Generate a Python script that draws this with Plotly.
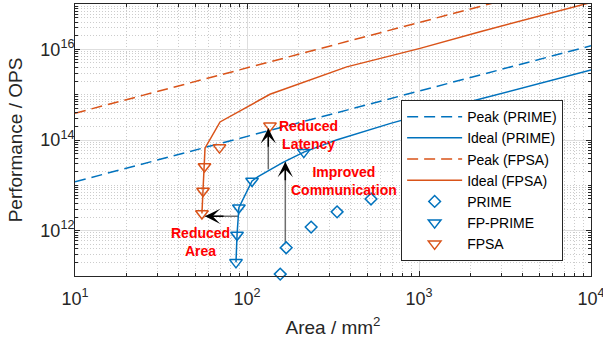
import plotly.graph_objects as go
import math

# ---------------- data ----------------
peak_area = [10, 10000]
peak_prime = [1.2e13, 1.2e16]
peak_fpsa = [3.9e14, 3.9e17]

ideal_prime_area = [86.3, 87.5, 89.7, 107, 116, 162, 214, 331, 676, 1578, 10000]
ideal_prime_perf = [2.0e11, 8.0e11, 3.2e12, 1.25e13, 1.55e13, 3.2e13, 5.4e13, 1.0e14, 2.3e14, 5.6e14, 3.5e15]

ideal_fpsa_area = [54.7, 55.5, 56.6, 57.0, 69.7, 136, 380, 1014, 2265, 10000]
ideal_fpsa_perf = [2.4e12, 7.5e12, 2.6e13, 6.6e13, 2.5e14, 1.02e15, 4.1e15, 1.05e16, 2.45e16, 1.08e17]

prime_area = [156, 169, 236, 334, 526]
prime_perf = [1.1e11, 4.2e11, 1.2e12, 2.6e12, 5.0e12]

fp_prime_area = [86.3, 87.5, 89.7, 107, 214]
fp_prime_perf = [2.0e11, 8.0e11, 3.2e12, 1.25e13, 5.4e13]

fpsa_area = [54.7, 55.5, 56.6, 69.2, 136]
fpsa_perf = [2.4e12, 7.5e12, 2.6e13, 6.8e13, 2.05e14]

x_tick_vals = [10, 100, 1000, 10000]
x_tick_text = ["10<sup>1</sup>", "10<sup>2</sup>", "10<sup>3</sup>", "10<sup>4</sup>"]
y_tick_vals = [1e12, 1e14, 1e16]
y_tick_text = ["10<sup>12</sup>", "10<sup>14</sup>", "10<sup>16</sup>"]

# arrows: (tail area, tail perf, tip area, tip perf, head offset px)
arrows = [
    (88.7, 2.07e12, 57.0, 2.07e12, (20, 0)),      # Reduced Area
    (133, 2.25e13, 133, 1.81e14, (0, 20)),        # Reduced Latency
    (167, 5.5e11, 167, 3.3e13, (0, 20)),          # Improved Communication
]
labels = [
    ("Reduced<br>Latency", 227, 1.29e14),
    ("Improved<br>Communication", 364, 1.23e13),
    ("Reduced<br>Area", 53.3, 5.55e11),
]

BLUE = "#0072BD"
ORANGE = "#D95319"
AX = "#262626"
FONT = "Liberation Sans, Arial, sans-serif"

fig = go.Figure()

# arrow shafts (drawn first, underneath)
for (xa, ya, xb, yb, off) in arrows:
    fig.add_trace(go.Scatter(x=[xa, xb], y=[ya, yb], mode="lines",
                             line=dict(color="#6e6e6e", width=1.5),
                             showlegend=False, hoverinfo="skip"))

fig.add_trace(go.Scatter(x=peak_area, y=peak_prime, mode="lines", name="Peak (PRIME)",
                         line=dict(color=BLUE, width=1.5, dash="11px,6px")))
fig.add_trace(go.Scatter(x=ideal_prime_area, y=ideal_prime_perf, mode="lines", name="Ideal (PRIME)",
                         line=dict(color=BLUE, width=1.5)))
fig.add_trace(go.Scatter(x=peak_area, y=peak_fpsa, mode="lines", name="Peak (FPSA)",
                         line=dict(color=ORANGE, width=1.5, dash="11px,6px")))
fig.add_trace(go.Scatter(x=ideal_fpsa_area, y=ideal_fpsa_perf, mode="lines", name="Ideal (FPSA)",
                         line=dict(color=ORANGE, width=1.5)))
fig.add_trace(go.Scatter(x=prime_area, y=prime_perf, mode="markers", name="PRIME", cliponaxis=False,
                         marker=dict(symbol="diamond-open", size=9, color=BLUE, line=dict(width=1.5, color=BLUE))))
fig.add_trace(go.Scatter(x=fp_prime_area, y=fp_prime_perf, mode="markers", name="FP-PRIME", cliponaxis=False,
                         marker=dict(symbol="triangle-down-open", size=11, color=BLUE, line=dict(width=1.5, color=BLUE))))
fig.add_trace(go.Scatter(x=fpsa_area, y=fpsa_perf, mode="markers", name="FPSA", cliponaxis=False,
                         marker=dict(symbol="triangle-down-open", size=11, color=ORANGE, line=dict(width=1.5, color=ORANGE))))

annotations = []
for (xa, ya, xb, yb, off) in arrows:
    annotations.append(dict(x=math.log10(xb), y=math.log10(yb), xref="x", yref="y",
                            ax=off[0], ay=off[1], showarrow=True, arrowhead=3,
                            arrowsize=1.7, arrowwidth=1.5, arrowcolor="black", text=""))
for (txt, xv, yv) in labels:
    annotations.append(dict(x=math.log10(xv), y=math.log10(yv), xref="x", yref="y", text=txt,
                            showarrow=False, align="center",
                            font=dict(family=FONT, size=14, color="#FF0000", weight="bold")))

x_minor = [k * 10 ** n for n in range(1, 4) for k in range(2, 10)]
y_minor = [k * 10 ** n for n in range(11, 17) for k in range(1, 10) if k * 10 ** n not in y_tick_vals]

axis_common = dict(type="log", showline=True, linecolor=AX, linewidth=1, mirror="ticks",
                   ticks="inside", ticklen=5, tickcolor=AX, showgrid=True, gridcolor="#dedede",
                   gridwidth=1, zeroline=False, automargin=False, ticklabeloverflow="allow",
                   tickfont=dict(family=FONT, size=18, color=AX))

fig.update_layout(
    width=603, height=341,
    margin=dict(l=75, r=12, t=4, b=65),
    paper_bgcolor="white", plot_bgcolor="white",
    xaxis=dict(range=[1, 4], tickvals=x_tick_vals, ticktext=x_tick_text, ticklabelstandoff=6,
               minor=dict(tickvals=x_minor, ticks="inside", ticklen=3, tickcolor=AX,
                          showgrid=True, gridcolor="#cccccc", griddash="1px,2px"),
               title=dict(text="Area / mm<sup>2</sup>", font=dict(family=FONT, size=19, color=AX), standoff=13),
               **axis_common),
    yaxis=dict(range=[11, 17], tickvals=y_tick_vals, ticktext=y_tick_text, ticklabelstandoff=-4,
               minor=dict(tickvals=y_minor, ticks="inside", ticklen=3, tickcolor=AX,
                          showgrid=True, gridcolor="#cccccc", griddash="1px,2px"),
               title=dict(text="Performance / OPS", font=dict(family=FONT, size=19, color=AX), standoff=12),
               **axis_common),
    legend=dict(x=0.946, xanchor="right", y=0.055, yanchor="bottom", bgcolor="white",
                bordercolor=AX, borderwidth=1, font=dict(family=FONT, size=14, color="#000000"),
                tracegroupgap=0, itemwidth=55),
    annotations=annotations,
    showlegend=True,
)

fig.write_html("out.html", config={"displayModeBar": False},
               post_script="document.body.style.margin='0';")
